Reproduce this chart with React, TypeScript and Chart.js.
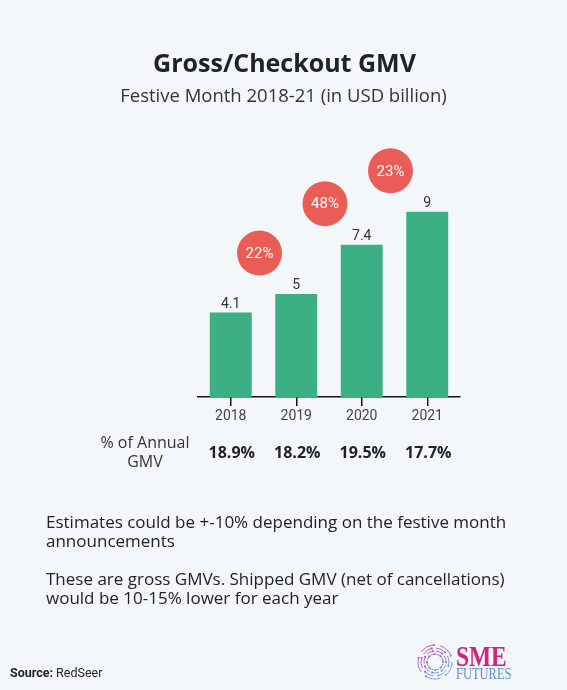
import React, { useEffect, useRef } from "react";
import { Chart, registerables } from "chart.js";
Chart.register(...registerables);

const years = ["2018", "2019", "2020", "2021"];
const gmv = [4.1, 5, 7.4, 9];
const growth = ["22%", "48%", "23%"];
const annualShare = ["18.9%", "18.2%", "19.5%", "17.7%"];
const titleText = "Gross/Checkout GMV";
const subtitleText = "Festive Month 2018-21 (in USD billion)";
const rowLabel = ["% of Annual", "GMV"];
const notes = [
  ["Estimates could be +-10% depending on the festive month", "announcements"],
  ["These are gross GMVs. Shipped GMV (net of cancellations)", "would be 10-15% lower for each year"],
];
const sourceLabel = "Source:";
const sourceName = " RedSeer";

const SANS = "'Open Sans', sans-serif";
const ROBOTO = "Roboto, sans-serif";

const decorPlugin = {
  id: "decor",
  beforeDraw(chart: any) {
    const ctx = chart.ctx;
    ctx.save();
    ctx.fillStyle = "#f4f7fa";
    ctx.fillRect(0, 0, chart.width, chart.height);
    ctx.restore();
  },
  afterDraw(chart: any) {
    const ctx = chart.ctx;
    const xs = chart.scales.x;
    const ys = chart.scales.y;
    const W = chart.width;
    ctx.save();
    // title
    ctx.textAlign = "center";
    ctx.textBaseline = "alphabetic";
    ctx.fillStyle = "#222";
    ctx.font = `bold 25px ${SANS}`;
    ctx.fillText(titleText, W / 2 + 1, 72);
    ctx.fillStyle = "#333";
    ctx.font = `18.5px ${SANS}`;
    ctx.fillText(subtitleText, W / 2, 102);

    // value labels
    ctx.font = `14px ${ROBOTO}`;
    ctx.fillStyle = "#333";
    gmv.forEach((v, i) => {
      ctx.fillText(String(v), xs.getPixelForValue(i), ys.getPixelForValue(v) - 5);
    });

    // growth circles
    growth.forEach((g, i) => {
      const cx = (xs.getPixelForValue(i) + xs.getPixelForValue(i + 1)) / 2 - 4;
      const cy = ys.getPixelForValue(gmv[i + 1]) - 41;
      ctx.beginPath();
      ctx.arc(cx, cy, 22.5, 0, Math.PI * 2);
      ctx.fillStyle = "#ea5d57";
      ctx.fill();
      ctx.fillStyle = "#ffffff";
      ctx.font = `15px ${ROBOTO}`;
      ctx.textBaseline = "middle";
      ctx.fillText(g, cx, cy + 1);
      ctx.textBaseline = "alphabetic";
    });

    // annual share row
    ctx.fillStyle = "#333";
    ctx.font = `16px ${SANS}`;
    ctx.fillText(rowLabel[0], 145, 448);
    ctx.fillText(rowLabel[1], 145, 467);
    ctx.fillStyle = "#222";
    ctx.font = `bold 16px ${SANS}`;
    annualShare.forEach((s, i) => {
      ctx.fillText(s, xs.getPixelForValue(i) + 1, 458);
    });

    // notes
    ctx.textAlign = "left";
    ctx.fillStyle = "#222";
    ctx.font = `17px ${SANS}`;
    const baselines = [[528, 547], [585, 604]];
    notes.forEach((p, pi) => {
      p.forEach((line, li) => ctx.fillText(line, 46, baselines[pi][li]));
    });

    // source
    ctx.font = `bold 12.5px ${ROBOTO}`;
    ctx.fillStyle = "#222";
    ctx.fillText(sourceLabel, 10, 677);
    const w = ctx.measureText(sourceLabel).width;
    ctx.font = `12.5px ${ROBOTO}`;
    ctx.fillText(sourceName, 10 + w, 677);

    // logo
    const lcx = 435, lcy = 662;
    const grad = ctx.createLinearGradient(lcx - 15, lcy - 17, lcx + 10, lcy + 17);
    grad.addColorStop(0, "#e04aa6");
    grad.addColorStop(0.5, "#9b6fd0");
    grad.addColorStop(1, "#5cc0e8");
    ctx.strokeStyle = grad;
    ctx.fillStyle = grad;
    ctx.lineWidth = 1;
    const radii = [17, 14, 11, 8];
    radii.forEach((r, k) => {
      const segs = 5 + k;
      for (let s = 0; s < segs; s++) {
        const a0 = (s / segs) * Math.PI * 2 + k * 0.6;
        const a1 = a0 + (Math.PI * 2 / segs) * 0.7;
        ctx.beginPath();
        ctx.arc(lcx, lcy, r, a0, a1);
        ctx.stroke();
        ctx.beginPath();
        ctx.arc(lcx + Math.cos(a1) * r, lcy + Math.sin(a1) * r, 1.1, 0, Math.PI * 2);
        ctx.fill();
      }
    });
    ctx.save();
    ctx.translate(456, 666);
    ctx.scale(0.78, 1);
    ctx.font = `bold 30px 'Liberation Serif', serif`;
    ctx.fillStyle = "#d4237f";
    ctx.fillText("SME", 0, 0);
    ctx.restore();
    ctx.save();
    ctx.translate(456, 679);
    ctx.scale(0.78, 1);
    ctx.font = `16px 'Liberation Serif', serif`;
    ctx.fillStyle = "#5d8fd2";
    ctx.fillText("FUTURES", 0, 0);
    ctx.restore();

    ctx.restore();
  },
};

export default function App() {
  const ref = useRef<HTMLCanvasElement>(null);
  useEffect(() => {
    if (!ref.current) return;
    const chart = new Chart(ref.current, {
      type: "bar",
      data: {
        labels: years,
        datasets: [
          {
            data: gmv,
            backgroundColor: "#3caf85",
            barPercentage: 0.64,
            categoryPercentage: 1,
          },
        ],
      },
      options: {
        animation: false,
        responsive: true,
        maintainAspectRatio: false,
        layout: { padding: { left: 198, right: 107, top: 150, bottom: 265 } },
        plugins: { legend: { display: false }, tooltip: { enabled: false } },
        scales: {
          x: {
            afterFit: (s: any) => {
              s.height = 28;
            },
            grid: {
              display: true,
              drawOnChartArea: false,
              drawTicks: true,
              tickLength: 9,
              color: "#111",
              lineWidth: 1.5,
              offset: false,
            },
            border: { display: true, color: "#111", width: 1.5 },
            ticks: {
              color: "#444",
              font: { family: "Roboto", size: 14 },
              padding: 2,
            },
          },
          y: { display: false, min: 0, max: 12 },
        },
      },
      plugins: [decorPlugin],
    });
    return () => chart.destroy();
  }, []);
  return (
    <div style={{ position: "fixed", left: 0, top: 0, width: 567, height: 690 }}>
      <canvas ref={ref} />
    </div>
  );
}
